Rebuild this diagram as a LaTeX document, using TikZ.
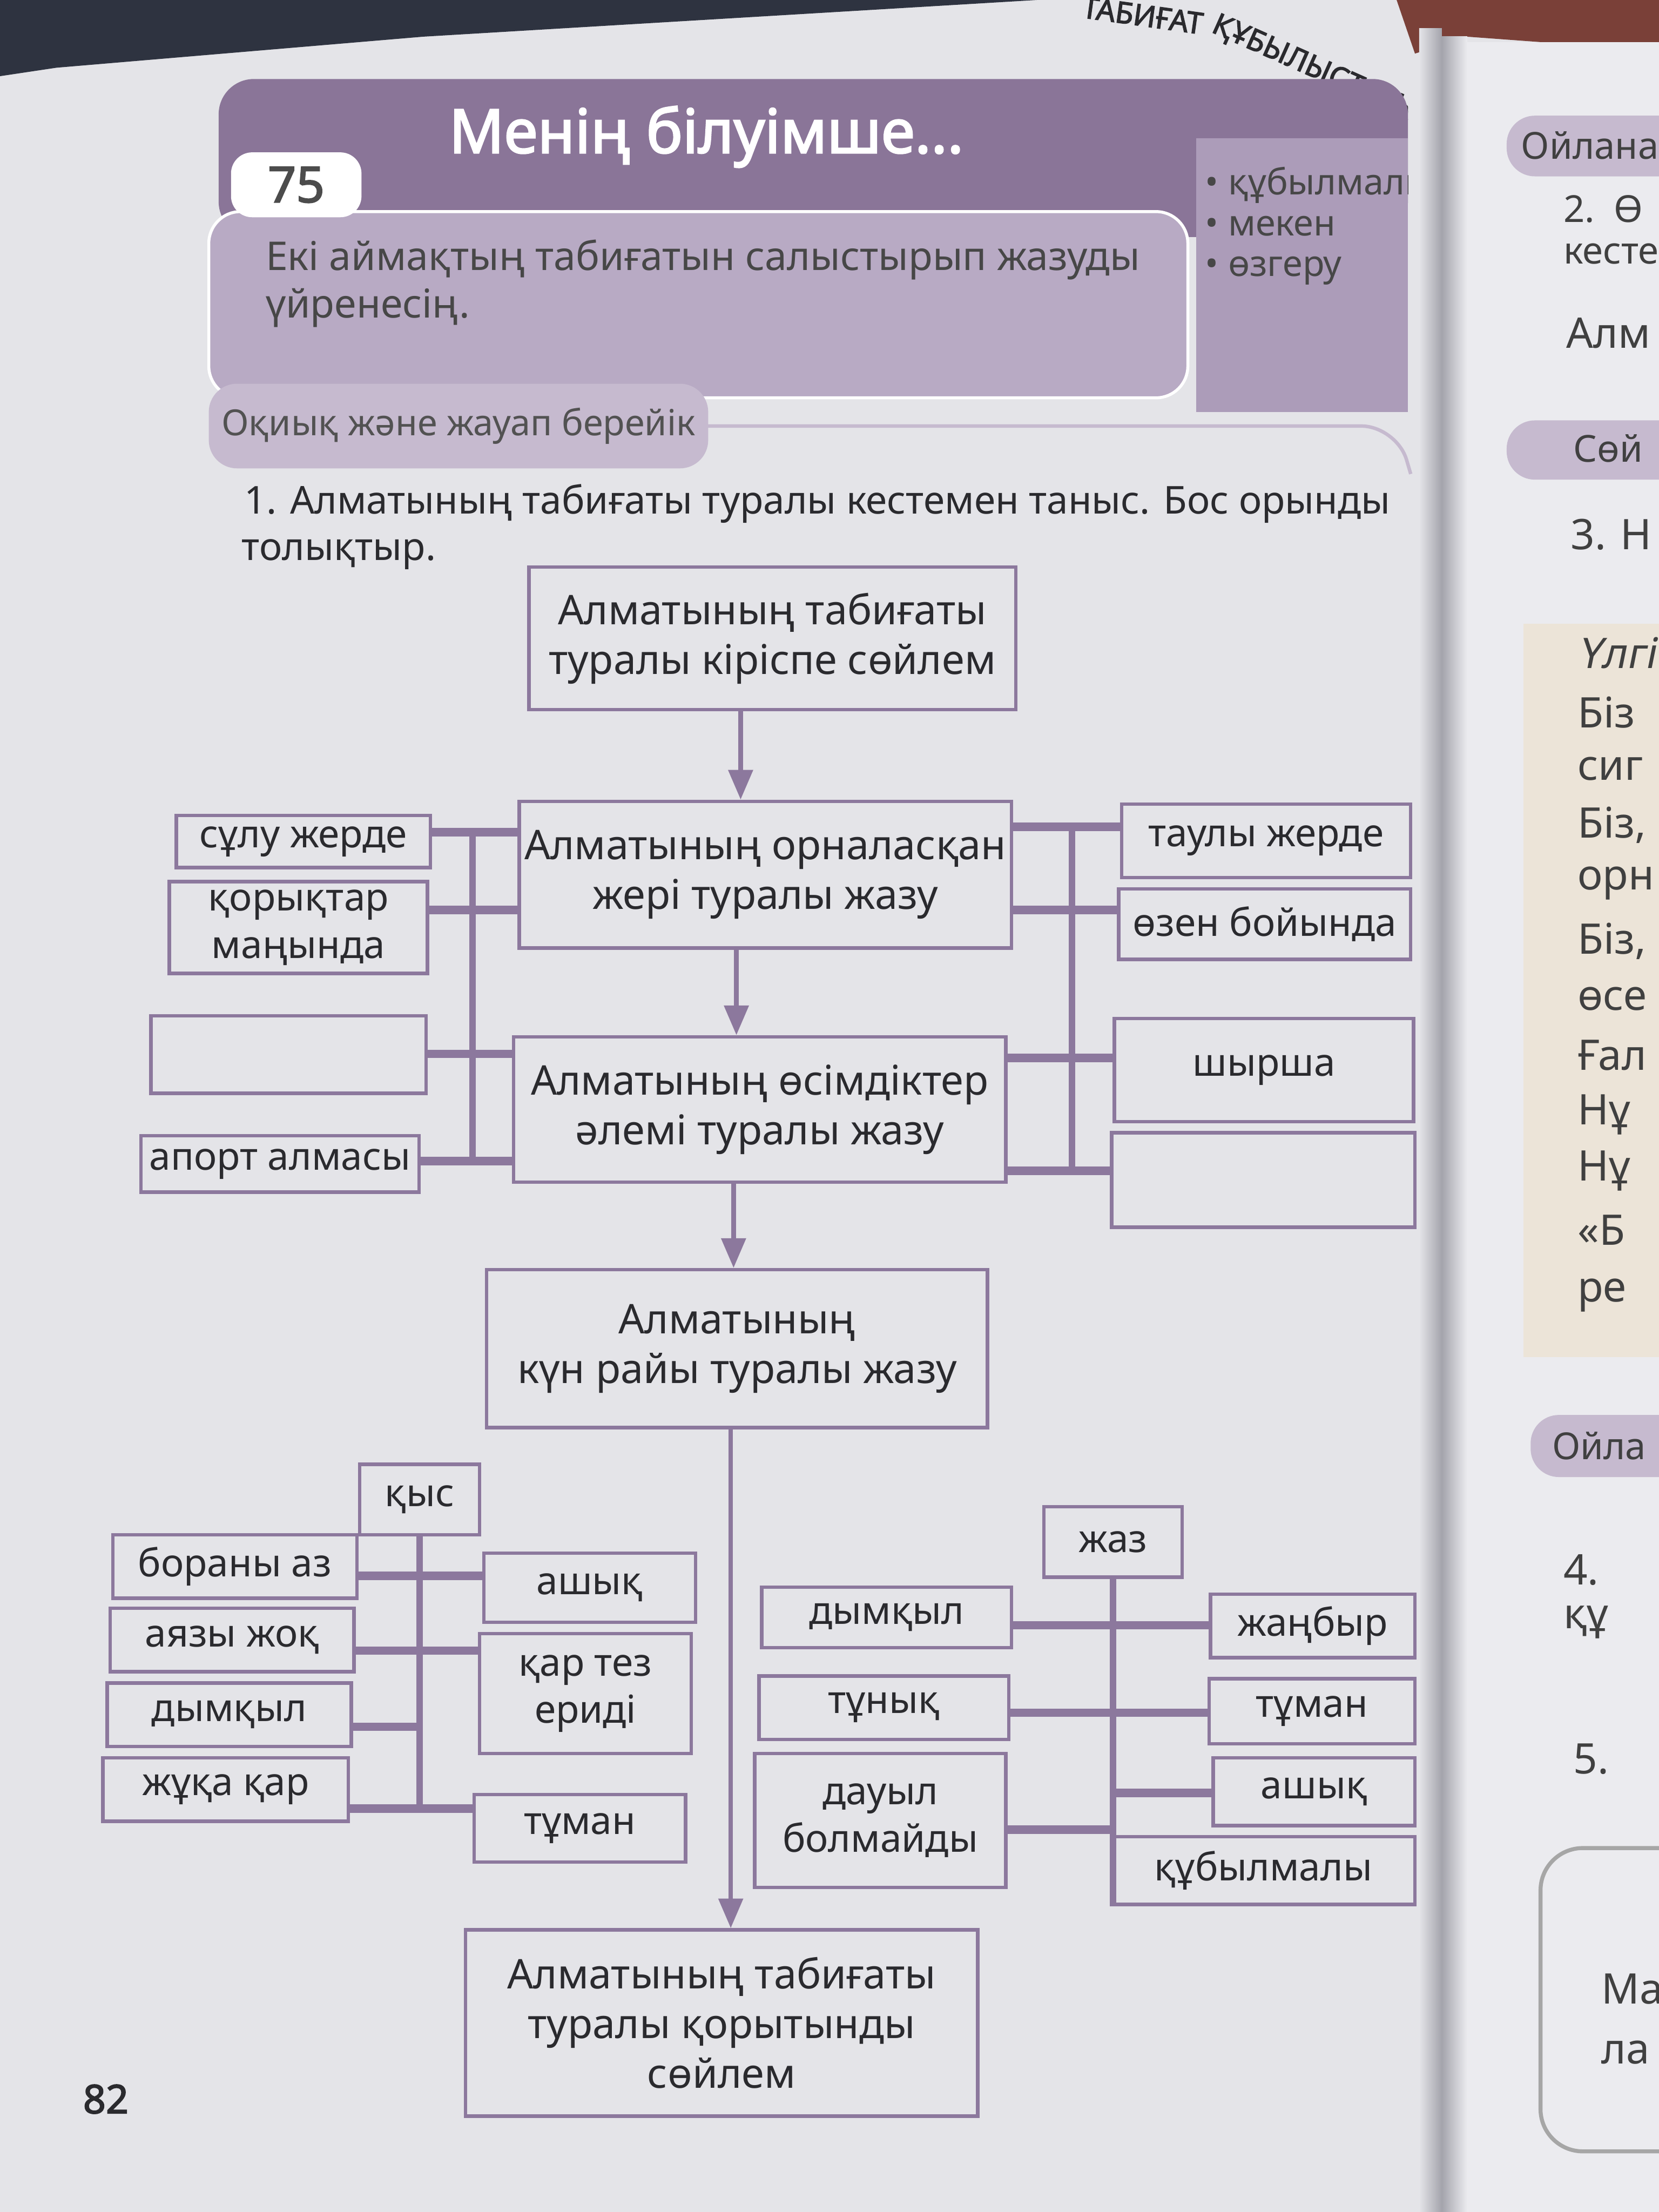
\documentclass[tikz,border=0pt]{standalone}
\usepackage{fontspec}
\setmainfont{Noto Sans}[AutoFakeBold=2.5, AutoFakeSlant=0.2]
\usetikzlibrary{arrows.meta}
\definecolor{pagebg}{HTML}{E4E4E8}
\definecolor{lineP}{HTML}{8C789D}
\definecolor{barP}{HTML}{8A7598}
\definecolor{panelP}{HTML}{B8AAC4}
\definecolor{bulletP}{HTML}{AC9CB9}
\definecolor{pillP}{HTML}{C6BACF}
\definecolor{txt}{HTML}{2A2A2E}
\definecolor{fabric}{HTML}{2E3340}
\definecolor{rightpg}{HTML}{EBEBEF}
\definecolor{beige}{HTML}{ECE4D8}
\definecolor{tablec}{HTML}{7A4038}
\definecolor{gutter}{HTML}{A4A4AC}
\tikzset{
  pos/.style n args={4}{minimum width={(#3-#1)*0.02cm}, minimum height={(#4-#2)*0.02cm},
                        at={({(#1+#3)/2},{(#2+#4)/2})}},
  box/.style={draw=lineP, line width=1.4pt, inner sep=0pt, align=center, text=txt, font=\fontsize{15.5}{19}\selectfont},
  bigbox/.style={box, font=\fontsize{16.5}{20}\selectfont},
  hconn/.style={draw=lineP, line width=3.4pt},
  trunk/.style={draw=lineP, line width=2.6pt},
  arr/.style={draw=lineP, line width=1.8pt, -{Triangle[length=0.42cm,width=0.34cm]}},
  rtext/.style={anchor=west, inner sep=0pt, text=gray!50!black, font=\fontsize{17}{19}\selectfont},
  plain/.style={anchor=west, inner sep=0pt, text=txt},
  runh/.style={anchor=north west, inner sep=0pt, text=txt, font=\bfseries\fontsize{12}{14}\selectfont},
}
\begin{document}
\begin{tikzpicture}[x=0.02cm, y=-0.02cm]
\useasboundingbox (0,0) rectangle (1176,1568);
% ---------- background ----------
\fill[pagebg] (0,0) rectangle (1176,1568);
\fill[fabric] (0,0) -- (735,0) -- (300,26) -- (40,48) -- (0,54) -- cycle;
\fill[tablec] (990,0) -- (1176,0) -- (1176,36) -- (1040,26) -- (1003,38) -- cycle;
\fill[rightpg] (1040,30) rectangle (1176,1568);
\shade[left color=pagebg, right color=gutter] (1006,20) rectangle (1022,1568);
\shade[left color=gutter, right color=rightpg] (1022,26) rectangle (1040,1568);

% ---------- running header ----------
\begin{scope}
\clip (700,0) rectangle (998,90);
\node[runh, rotate=-8] (runhA) at (768,-3) {ТАБИҒАТ};
\node[runh, rotate=-24] (runhB) at (864,8) {ҚҰБЫЛЫСТАРЫ};
\end{scope}

% ---------- lesson header ----------
\fill[barP, rounded corners=0.5cm] (155,56) rectangle (998,168);
\filldraw[fill=panelP, draw=white, line width=1.2pt, rounded corners=0.45cm] (148,150) rectangle (842,282);
\fill[bulletP] (848,98) rectangle (998,292);
\node[fill=white, rounded corners=0.3cm, minimum width=1.85cm, minimum height=0.92cm, inner sep=0pt,
      text=black!70, font=\bfseries\fontsize{20}{22}\selectfont] (num) at (210,131) {75};
\node[anchor=west, inner sep=0pt, text=white, font=\bfseries\fontsize{24.5}{28}\selectfont] (title) at (318,97) {Менің білуімше...};
\node[plain, align=left, text=black!72, font=\fontsize{16}{19}\selectfont] (goal) at (188,201)
     {Екі аймақтың табиғатын салыстырып жазуды\\үйренесің.};
\begin{scope}
\clip (848,98) rectangle (998,292);
\node[anchor=north west, inner sep=0pt, align=left, text=black!72, font=\fontsize{14.5}{16.5}\selectfont] (keys) at (854,118)
     {• құбылмалы\\• мекен\\• өзгеру};
\end{scope}

% ---------- section pill + task ----------
\draw[pillP, line width=1.4pt, rounded corners=0.5cm] (500,302) -- (990,302) -- (1000,336);
\fill[pillP, rounded corners=0.4cm] (148,272) rectangle (502,332);
\node[inner sep=0pt, text=black!68, font=\fontsize{14.5}{17}\selectfont] (pill) at (325,302) {Оқиық және жауап берейік};
\node[plain, font=\fontsize{15.5}{18}\selectfont] (task1) at (173,357) {1. Алматының табиғаты туралы кестемен таныс. Бос орынды};
\node[plain, font=\fontsize{15.5}{18}\selectfont] (task2) at (171,393) {толықтыр.};

% ---------- main chain ----------
\node[bigbox, pos={375}{402}{720}{503}] (intro) {Алматының табиғаты\\туралы кіріспе сөйлем};
\node[bigbox, pos={368}{568}{717}{672}] (loc) {Алматының орналасқан\\жері туралы жазу};
\node[bigbox, pos={364}{735}{713}{838}] (flora) {Алматының өсімдіктер\\әлемі туралы жазу};
\node[bigbox, pos={345}{900}{700}{1012}] (weather) {Алматының\\күн райы туралы жазу};
\node[bigbox, pos={330}{1368}{693}{1500}] (concl) {Алматының табиғаты\\туралы қорытынды\\сөйлем};

\draw[arr] (intro.south -| 525,0) -- (loc.north -| 525,0);
\draw[arr] (loc.south -| 522,0) -- (flora.north -| 522,0);
\draw[arr] (flora.south -| 520,0) -- (weather.north -| 520,0);
\draw[arr] (weather.south -| 518,0) -- (concl.north -| 518,0);

% ---------- location / flora side boxes ----------
\node[box, pos={125}{578}{305}{615}] (sulu) {сұлу жерде};
\node[box, pos={120}{625}{303}{690}] (koryk) {қорықтар\\маңында};
\node[box, pos={107}{720}{302}{775}] (emptyL) {};
\node[box, pos={100}{805}{297}{845}] (aport) {апорт алмасы};
\node[box, pos={795}{570}{1000}{622}] (tauly) {таулы жерде};
\node[box, pos={793}{630}{1000}{680}] (ozen) {өзен бойында};
\node[box, pos={790}{722}{1002}{795}] (shyrsha) {шырша};
\node[box, pos={788}{803}{1003}{870}] (emptyR) {};

\coordinate (tLtop) at (335,590);
\coordinate (tLbot) at (335,823);
\coordinate (tRtop) at (760,586);
\coordinate (tRbot) at (760,830);
\draw[trunk] (tLtop) -- (tLbot);
\draw[trunk] (tRtop) -- (tRbot);
\draw[hconn] (sulu.east |- tLtop) -- (loc.west |- tLtop);
\draw[hconn] (koryk.east |- 0,645) -- (loc.west |- 0,645);
\draw[hconn] (emptyL.east |- 0,747) -- (flora.west |- 0,747);
\draw[hconn] (aport.east |- tLbot) -- (flora.west |- tLbot);
\draw[hconn] (loc.east |- tRtop) -- (tauly.west |- tRtop);
\draw[hconn] (loc.east |- 0,645) -- (ozen.west |- 0,645);
\draw[hconn] (flora.east |- 0,750) -- (shyrsha.west |- 0,750);
\draw[hconn] (flora.east |- tRbot) -- (emptyR.west |- tRbot);

% ---------- winter ----------
\node[box, pos={255}{1038}{340}{1088}] (kys) {қыс};
\node[box, pos={80}{1088}{253}{1133}] (boran) {бораны аз};
\node[box, pos={78}{1140}{251}{1185}] (ayaz) {аязы жоқ};
\node[box, pos={76}{1193}{249}{1238}] (dymW) {дымқыл};
\node[box, pos={73}{1246}{247}{1291}] (zhuka) {жұқа қар};
\node[box, pos={343}{1101}{493}{1150}] (ashW) {ашық};
\node[box, pos={340}{1158}{490}{1243}] (kar) {қар тез\\ериді};
\node[box, pos={336}{1272}{486}{1320}] (tumW) {тұман};
\draw[trunk] (kys.south) -- (kys.south |- 0,1282);
\draw[hconn] (boran.east |- 0,1117) -- (ashW.west |- 0,1117);
\draw[hconn] (ayaz.east |- 0,1170) -- (kar.west |- 0,1170);
\draw[hconn] (dymW.east |- 0,1224) -- (kys.south |- 0,1224);
\draw[hconn] (zhuka.east |- 0,1282) -- (tumW.west |- 0,1282);

% ---------- summer ----------
\node[box, pos={740}{1068}{838}{1118}] (zhaz) {жаз};
\node[box, pos={540}{1125}{717}{1168}] (dymS) {дымқыл};
\node[box, pos={538}{1188}{715}{1233}] (tunyk) {тұнық};
\node[box, pos={535}{1243}{713}{1338}] (dauyl) {дауыл\\болмайды};
\node[box, pos={858}{1130}{1003}{1175}] (zhanbyr) {жаңбыр};
\node[box, pos={857}{1190}{1003}{1236}] (tumS) {тұман};
\node[box, pos={860}{1246}{1003}{1294}] (ashS) {ашық};
\node[box, pos={788}{1302}{1003}{1350}] (kubyl) {құбылмалы};
\draw[trunk] (zhaz.south) -- (zhaz.south |- kubyl.south);
\draw[hconn] (dymS.east |- 0,1152) -- (zhanbyr.west |- 0,1152);
\draw[hconn] (tunyk.east |- 0,1214) -- (tumS.west |- 0,1214);
\draw[hconn] (zhaz.south |- 0,1271) -- (ashS.west |- 0,1271);
\draw[hconn] (dauyl.east |- 0,1297) -- (zhaz.south |- 0,1297);

% ---------- page number ----------
\node[inner sep=0pt, text=txt, font=\bfseries\fontsize{16}{18}\selectfont] (pagenum) at (75,1488) {82};

% ---------- right page fragments ----------
\begin{scope}
\clip (1044,0) rectangle (1176,1568);
\fill[pillP, rounded corners=0.4cm] (1068,82) rectangle (1220,125);
\node[rtext, font=\fontsize{15}{17}\selectfont] (r1) at (1078,103) {Ойлана};
\node[rtext, font=\fontsize{15}{17}\selectfont] (r2) at (1108,148) {2.\ \ Ө};
\node[rtext, font=\fontsize{15}{17}\selectfont] (r3) at (1108,180) {кесте};
\node[rtext] (r4) at (1110,236) {Алм};
\fill[pillP, rounded corners=0.4cm] (1068,298) rectangle (1220,340);
\node[rtext, font=\fontsize{15}{17}\selectfont] (r5) at (1115,318) {Сөй};
\node[rtext] (r6) at (1113,379) {3. Н};
\fill[beige] (1080,442) rectangle (1220,962);
\node[rtext, font=\itshape\fontsize{17}{19}\selectfont] (r7) at (1118,463) {Үлгі};
\node[rtext] (r8) at (1118,505) {Біз};
\node[rtext] (r9) at (1118,545) {сиг};
\node[rtext] (r10) at (1118,585) {Біз,};
\node[rtext] (r11) at (1118,626) {орн};
\node[rtext] (r12) at (1118,667) {Біз,};
\node[rtext] (r13) at (1118,708) {өсе};
\node[rtext] (r14) at (1118,748) {Ғал};
\node[rtext] (r15) at (1118,790) {Нұ};
\node[rtext] (r16) at (1118,830) {Нұ};
\node[rtext] (r17) at (1118,872) {«Б};
\node[rtext] (r18) at (1118,918) {ре};
\fill[pillP, rounded corners=0.4cm] (1085,1003) rectangle (1220,1047);
\node[rtext, font=\fontsize{15}{17}\selectfont] (r19) at (1100,1025) {Ойла};
\node[rtext] (r20) at (1108,1113) {4.};
\node[rtext] (r21) at (1108,1150) {құ};
\node[rtext] (r22) at (1115,1247) {5.};
\draw[gray!70, line width=1.6pt, rounded corners=0.6cm] (1220,1310) -- (1092,1310) -- (1092,1525) -- (1220,1525);
\node[rtext] (r23) at (1135,1410) {Ма};
\node[rtext] (r24) at (1135,1455) {ла};
\end{scope}
\end{tikzpicture}
\end{document}
